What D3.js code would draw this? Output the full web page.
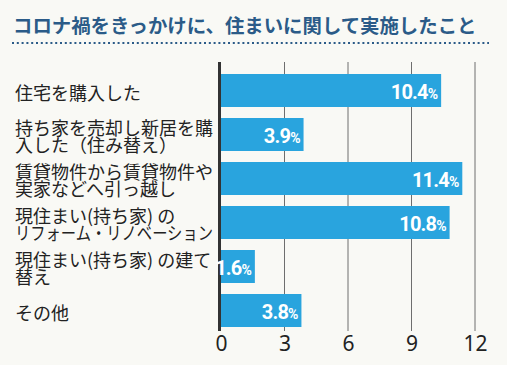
<!DOCTYPE html>
<html><head><meta charset="utf-8">
<script src="https://cdn.jsdelivr.net/npm/d3@7"></script>
<style>
html,body{margin:0;padding:0;background:#f9f9f5;}
svg{display:block;}
</style></head>
<body>
<script>
const title = "コロナ禍をきっかけに、住まいに関して実施したこと";
const categories = [
  ["住宅を購入した"],
  ["持ち家を売却し新居を購", "入した（住み替え）"],
  ["賃貸物件から賃貸物件や", "実家などへ引っ越し"],
  ["現住まい(持ち家) の", "リフォーム・リノベーション"],
  ["現住まい(持ち家) の建て", "替え"],
  ["その他"]
];
const values = [10.4, 3.9, 11.4, 10.8, 1.6, 3.8];
const tickValues = [0, 3, 6, 9, 12];

const W = 507, H = 365;
const svg = d3.select("body").append("svg").attr("width", W).attr("height", H);
svg.append("rect").attr("width", W).attr("height", H).attr("fill", "#f9f9f5");

const jp = "'Noto Sans CJK JP','Noto Sans',sans-serif";

svg.append("text").attr("x", 13).attr("y", 33)
  .attr("font-family", jp).attr("font-weight", 700).attr("font-size", 19.4)
  .attr("fill", "#2b5b88").text(title);

svg.append("line").attr("x1", 12).attr("x2", 489).attr("y1", 43).attr("y2", 43)
  .attr("stroke", "#2b5b88").attr("stroke-width", 2).attr("stroke-dasharray", "2,2.8");

const x = d3.scaleLinear().domain([0, 12]).range([221, 475]);
const idx = d3.range(values.length);
const y = d3.scaleBand().domain(idx).range([68.5, 332.5]).paddingInner(0.25).paddingOuter(0.125);

// gridlines
svg.append("g").selectAll("line").data(tickValues.filter(d => d > 0)).join("line")
  .attr("x1", d => x(d)).attr("x2", d => x(d))
  .attr("y1", 62).attr("y2", 331)
  .attr("stroke", "#6e6e6e").attr("stroke-width", 1);

// bars
svg.append("g").selectAll("rect").data(values).join("rect")
  .attr("x", x(0)).attr("y", (d, i) => y(i))
  .attr("width", d => x(d) - x(0)).attr("height", y.bandwidth())
  .attr("fill", "#29a4de");

// axis line
svg.append("line").attr("x1", 219.5).attr("x2", 219.5).attr("y1", 62).attr("y2", 331)
  .attr("stroke", "#333").attr("stroke-width", 3);

// value labels
const vl = svg.append("g").selectAll("text").data(values).join("text")
  .attr("x", d => x(d) - 3).attr("y", (d, i) => y(i) + y.bandwidth() / 2 + 8)
  .attr("text-anchor", "end").attr("fill", "#fff")
  .attr("font-family", "Roboto, 'Open Sans', sans-serif").attr("font-weight", 700)
  .attr("letter-spacing", -0.8);
vl.append("tspan").attr("font-size", 20).text(d => d.toFixed(1));
vl.append("tspan").attr("font-size", 14).attr("letter-spacing", 0).text("%");

// x tick labels via axis
const axis = d3.axisBottom(x).tickValues(tickValues).tickSize(0).tickPadding(0).tickFormat(d3.format("d"));
const ag = svg.append("g").attr("transform", "translate(0,336)").call(axis);
ag.select(".domain").remove();
ag.selectAll("text").attr("font-family", "'Noto Sans', sans-serif").attr("font-size", 21)
  .attr("fill", "#222").attr("dy", "0.71em");

// category labels
const lh = 17;
const maxW = 198;
const cl = svg.append("g").selectAll("g").data(categories).join("g")
  .attr("transform", (d, i) => {
    const c = y(i) + y.bandwidth() / 2 + 3;
    const top = c - (d.length - 1) * lh / 2;
    return `translate(15,${top})`;
  });
cl.selectAll("text").data(d => d).join("text")
  .attr("font-family", jp).attr("font-size", 18).attr("fill", "#222")
  .attr("x", 0).attr("y", (d, j) => j * lh).attr("dy", "0.36em").text(d => d)
  .each(function () {
    if (this.getComputedTextLength() > maxW) {
      d3.select(this).attr("textLength", maxW).attr("lengthAdjust", "spacingAndGlyphs");
    }
  });
</script>
</body></html>
